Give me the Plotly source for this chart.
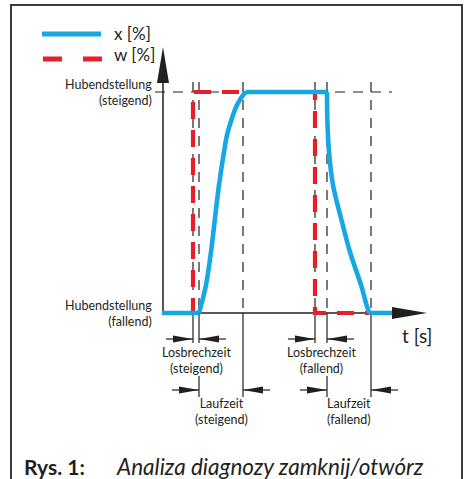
import plotly.graph_objects as go

# Setpoint w and valve position x over time (t in s, stroke in %)
t_w = [0.0, 3.0, 3.0, 15.2, 15.2, 20.9]
w_pct = [0, 0, 100, 100, 0, 0]

t_x = [-0.1, 3.6, 4.0, 4.3, 4.8, 5.2, 5.6, 6.1, 6.4, 6.9, 7.4, 8.0, 8.3,
       16.4, 16.43, 16.6, 17.0, 17.8, 18.7, 19.8, 20.6, 20.75, 22.9]
x_pct = [0, 0, 6.8, 12.7, 27.6, 43.0, 57.9, 72.9, 80.5, 88.2, 94.1, 98.6, 100,
         100, 88.2, 72.9, 57.9, 43.0, 27.6, 12.7, 0.5, 0, 0]

# Characteristic instants: step up, start of rise, end of rise,
# step down, start of fall, end of fall
t_marks = [3.0, 3.6, 8.0, 15.2, 16.4, 20.8]

level_values = [100, 0]
level_labels = ["Hubendstellung<br>(steigend)", "Hubendstellung<br>(fallend)"]

# (label, start, end, row)
spans = [
    ("Losbrechzeit<br>(steigend)", 3.0, 3.6, 1),
    ("Laufzeit<br>(steigend)", 3.6, 8.0, 2),
    ("Losbrechzeit<br>(fallend)", 15.2, 16.4, 1),
    ("Laufzeit<br>(fallend)", 16.4, 20.8, 2),
]

legend_names = ["x [%]", "w [%]"]
axis_title = "t [s]"
caption_head = "Rys. 1:"
caption_text = "Analiza diagnozy zamknij/otwórz"

W, H = 464, 479
INK = "#231f20"
BLUE = "#17a8e3"
RED = "#e61f2a"
FONT = "Lato"

# scale of the drawing: seconds and percent per screen pixel
PX_T = 0.1
PX_P = 1 / 2.21
T_RANGE = [-163 * PX_T, (W - 163) * PX_T]
P_RANGE = [-(H - 313) * PX_P, 313 * PX_P]

ROW_Y = {1: -26 * PX_P, 2: -77 * PX_P}      # dimension line heights
ROW_TXT = {1: -47.5 * PX_P, 2: -98.5 * PX_P}  # label centres


def head(tip_t, tip_p, direction, length=20, half=3.5):
    if direction == "r":
        pts = [(tip_t, tip_p), (tip_t - length * PX_T, tip_p + half * PX_P),
               (tip_t - length * PX_T, tip_p - half * PX_P)]
    elif direction == "l":
        pts = [(tip_t, tip_p), (tip_t + length * PX_T, tip_p + half * PX_P),
               (tip_t + length * PX_T, tip_p - half * PX_P)]
    else:
        pts = [(tip_t, tip_p), (tip_t - half * PX_T, tip_p - length * PX_P),
               (tip_t + half * PX_T, tip_p - length * PX_P)]
    path = "M " + " L ".join(f"{a:.4f},{b:.4f}" for a, b in pts) + " Z"
    return dict(type="path", path=path, xref="x", yref="y",
                fillcolor=INK, line=dict(width=0), layer="above")


def seg(x0, y0, x1, y1, dash="solid", width=1.2, layer="below"):
    return dict(type="line", x0=x0, y0=y0, x1=x1, y1=y1, xref="x", yref="y",
                line=dict(color=INK, width=width, dash=dash), layer=layer)


fig = go.Figure()
fig.add_trace(go.Scatter(x=t_w, y=w_pct, mode="lines",
                         line=dict(color=RED, width=4.2, dash="17px,11px"),
                         hoverinfo="skip", showlegend=False))

# valve position: flat stretches and the two transitions, each drawn
# as its own smooth piece so the corners stay sharp
i_rise0 = 1
i_rise1 = x_pct.index(100)
i_fall0 = len(x_pct) - 1 - x_pct[::-1].index(100)
i_fall1 = x_pct.index(0, i_fall0)
pieces = [(0, i_rise0), (i_rise0, i_rise1), (i_rise1, i_fall0),
          (i_fall0, i_fall1), (i_fall1, len(t_x) - 1)]
for a, b in pieces:
    fig.add_trace(go.Scatter(x=t_x[a:b + 1], y=x_pct[a:b + 1], mode="lines",
                             line=dict(color=BLUE, width=4.6, shape="spline",
                                       smoothing=0.9),
                             hoverinfo="skip", showlegend=False))

shapes = []
guide_top = 104.5
# dashed guides at the upper end position and at each instant
shapes.append(seg(-8 * PX_T, 100, 229 * PX_T, 100, dash="10px,8px"))
for tm in t_marks:
    shapes.append(seg(tm, guide_top, tm, 0, dash="10px,8px"))

# axes with arrow heads
y_tip, y_len = 266 * PX_P, 36
x_tip, x_len = 264 * PX_T, 35
shapes.append(seg(0, 0, 0, y_tip - y_len * PX_P, width=1.5))
shapes.append(head(0, y_tip, "u", length=y_len, half=6))
shapes.append(seg(-0.1, 0, x_tip - x_len * PX_T, 0, width=1.5))
shapes.append(head(x_tip, 0, "r", length=x_len, half=6))

# dimension lines below the time axis
ext = 27 * PX_T
annotations = []
for label, t0, t1, row in spans:
    yd = ROW_Y[row]
    bottom = yd - 4 * PX_P
    if row == 1:
        shapes.append(seg(t0, 0, t0, bottom))
    else:
        shapes.append(seg(t0, -63 * PX_P, t0, bottom - 3 * PX_P))
    shapes.append(seg(t1, 0, t1, bottom - (3 * PX_P if row == 2 else 0)))
    shapes.append(seg(t0 - ext, yd, t0, yd))
    shapes.append(seg(t1, yd, t1 + ext, yd))
    shapes.append(head(t0, yd, "r"))
    shapes.append(head(t1, yd, "l"))
    annotations.append(dict(x=(t0 + t1) / 2, y=ROW_TXT[row], xref="x", yref="y",
                            text=label, showarrow=False, xanchor="center",
                            yanchor="middle", align="center",
                            font=dict(family=FONT, size=12.5, color=INK)))

for val, lab in zip(level_values, level_labels):
    annotations.append(dict(x=-9 * PX_T, y=val, xref="x", yref="y", text=lab,
                            showarrow=False, xanchor="right", yanchor="middle",
                            align="right",
                            font=dict(family=FONT, size=12.5, color=INK)))

annotations.append(dict(x=237 * PX_T, y=-22 * PX_P, xref="x", yref="y",
                        text=axis_title, showarrow=False, xanchor="left",
                        yanchor="middle",
                        font=dict(family=FONT, size=19, color=INK)))

# legend keys
shapes.append(dict(type="line", xref="paper", yref="paper",
                   x0=42 / W, x1=101 / W, y0=1 - 34 / H, y1=1 - 34 / H,
                   line=dict(color=BLUE, width=5)))
shapes.append(dict(type="line", xref="paper", yref="paper",
                   x0=43 / W, x1=102 / W, y0=1 - 59 / H, y1=1 - 59 / H,
                   line=dict(color=RED, width=5, dash="19px,21px")))
for name, py in zip(legend_names, [34, 55]):
    annotations.append(dict(x=112 / W, y=1 - py / H, xref="paper", yref="paper",
                            text=name, showarrow=False, xanchor="left",
                            yanchor="middle",
                            font=dict(family=FONT, size=17, color=INK)))

# frame
shapes.append(dict(type="rect", xref="paper", yref="paper",
                   x0=11 / W, x1=462 / W, y0=-0.1, y1=1 - 5 / H,
                   line=dict(color="#3a3a3a", width=2), layer="below"))

# caption
annotations.append(dict(x=22 / W, y=1 - 466 / H, xref="paper", yref="paper",
                        text=f"<b>{caption_head}</b>", showarrow=False,
                        xanchor="left", yanchor="middle",
                        font=dict(family=FONT, size=21, color=INK)))
annotations.append(dict(x=114 / W, y=1 - 466 / H, xref="paper", yref="paper",
                        text=f"<i>{caption_text}</i>", showarrow=False,
                        xanchor="left", yanchor="middle",
                        font=dict(family=FONT, size=22.5, color=INK)))

fig.update_layout(
    width=W, height=H, autosize=False,
    margin=dict(l=0, r=0, t=0, b=0, pad=0),
    paper_bgcolor="white", plot_bgcolor="white",
    xaxis=dict(range=T_RANGE, visible=False, fixedrange=True),
    yaxis=dict(range=P_RANGE, visible=False, fixedrange=True),
    shapes=shapes, annotations=annotations,
    showlegend=False,
)

fig.write_html("out.html", config={"displayModeBar": False})
